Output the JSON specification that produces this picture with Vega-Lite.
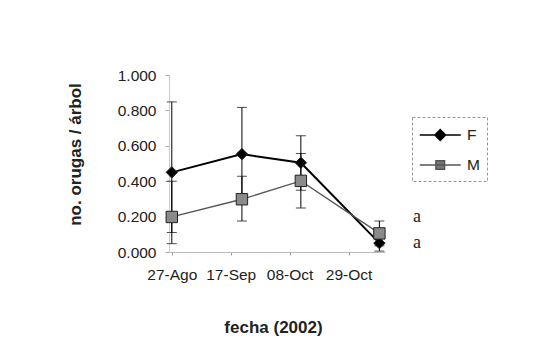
{
  "$schema": "https://vega.github.io/schema/vega-lite/v6.json",
  "width": 216,
  "height": 177,
  "autosize": {"type": "none"},
  "padding": {"left": 169, "top": 75, "right": 168, "bottom": 97},
  "background": "white",
  "config": {
    "view": {"stroke": null},
    "font": "Liberation Sans",
    "axis": {"grid": false, "labelFont": "Liberation Sans", "titleFont": "Liberation Sans", "labelColor": "#222", "titleColor": "#222", "labelOverlap": false}
  },
  "datasets": {
    "medias": [
      {"serie": "F", "dia": 0, "valor": 0.45, "inf": 0.047, "sup": 0.848},
      {"serie": "F", "dia": 25, "valor": 0.553, "inf": 0.29, "sup": 0.817},
      {"serie": "F", "dia": 46, "valor": 0.504, "inf": 0.349, "sup": 0.657},
      {"serie": "F", "dia": 74, "valor": 0.05, "inf": 0.005, "sup": 0.09},
      {"serie": "M", "dia": 0, "valor": 0.198, "inf": 0.11, "sup": 0.4},
      {"serie": "M", "dia": 25, "valor": 0.298, "inf": 0.175, "sup": 0.428},
      {"serie": "M", "dia": 46, "valor": 0.402, "inf": 0.249, "sup": 0.557},
      {"serie": "M", "dia": 74, "valor": 0.105, "inf": 0.035, "sup": 0.175}
    ],
    "letras": [
      {"dia": 86, "valor": 0.196, "texto": "a"},
      {"dia": 86, "valor": 0.05, "texto": "a"}
    ]
  },
  "encoding": {
    "x": {
      "field": "dia", "type": "quantitative",
      "scale": {"domain": [-1, 76], "nice": false, "zero": false},
      "axis": {
        "values": [0, 21, 42, 63],
        "labelExpr": "datum.value == 0 ? '27-Ago' : datum.value == 21 ? '17-Sep' : datum.value == 42 ? '08-Oct' : '29-Oct'",
        "domainColor": "#bbb", "tickColor": "#999", "tickSize": 3, "labelPadding": 12, "labelFontSize": 15.5, "labelOverlap": false,
        "title": "fecha (2002)", "titleFontSize": 17, "titleFontWeight": "bold",
        "titleX": 104, "titleY": 80, "titleAlign": "center", "titleBaseline": "alphabetic"
      }
    },
    "y": {
      "field": "valor", "type": "quantitative",
      "scale": {"domain": [0, 1], "nice": false},
      "axis": {
        "tickCount": 5, "format": ".3f", "labelOverlap": false, "labelSeparation": -10, "labelBound": false, "labelFlush": false,
        "domainColor": "#ccc", "tickColor": "#aaa", "tickSize": 4, "labelPadding": 9, "labelFontSize": 15.5,
        "title": "no. orugas / árbol", "titleFontSize": 17, "titleFontWeight": "bold",
        "titleAngle": 270, "titleX": -89, "titleY": 79, "titleAlign": "center", "titleBaseline": "alphabetic"
      }
    }
  },
  "layer": [
    {
      "data": {"name": "medias"},
      "mark": {"type": "errorbar", "ticks": {"size": 10, "color": "black", "thickness": 1}, "rule": {"color": "black", "strokeWidth": 1}},
      "encoding": {
        "y": {
          "field": "inf", "type": "quantitative",
          "scale": {"domain": [0, 1], "nice": false},
          "axis": {
            "tickCount": 5, "format": ".3f", "labelOverlap": false, "labelSeparation": -10, "labelBound": false, "labelFlush": false,
            "domainColor": "#ccc", "tickColor": "#aaa", "tickSize": 4, "labelPadding": 9, "labelFontSize": 15.5,
            "title": "no. orugas / árbol", "titleFontSize": 17, "titleFontWeight": "bold",
            "titleAngle": 270, "titleX": -89, "titleY": 79, "titleAlign": "center", "titleBaseline": "alphabetic"
          }
        },
        "y2": {"field": "sup"}
      }
    },
    {
      "data": {"name": "medias"},
      "mark": {"type": "line"},
      "encoding": {
        "color": {
          "field": "serie", "type": "nominal",
          "scale": {"domain": ["F", "M"], "range": ["black", "#555555"]},
          "legend": {
            "orient": "none", "legendX": 243, "legendY": 42, "title": null,
            "padding": 7, "strokeColor": "#999",
            "labelFontSize": 15.5, "labelFont": "Liberation Sans", "labelColor": "#222",
            "symbolSize": 420, "rowPadding": 10, "labelOffset": 26,
            "encode": {
              "legend": {"update": {"strokeDash": {"value": [3, 2]}}},
              "symbols": {
                "update": {
                  "shape": {"signal": "datum.value === 'F' ? 'M-1,0H3M0.48,0L1,-0.52L1.52,0L1,0.52Z' : 'M-1,0H3M0.58,-0.42H1.42V0.42H0.58Z'"},
                  "fill": {"signal": "datum.value === 'F' ? 'black' : '#777777'"},
                  "stroke": {"signal": "datum.value === 'F' ? 'black' : '#444444'"},
                  "strokeWidth": {"value": 1.5}
                }
              }
            }
          }
        },
        "strokeWidth": {"condition": {"test": "datum.serie === 'F'", "value": 2}, "value": 1.3}
      }
    },
    {
      "data": {"name": "medias"},
      "mark": {"type": "point", "filled": true, "size": 130, "stroke": "#222", "strokeWidth": 1, "opacity": 1},
      "encoding": {
        "shape": {"condition": {"test": "datum.serie === 'F'", "value": "diamond"}, "value": "square"},
        "fill": {"condition": {"test": "datum.serie === 'F'", "value": "black"}, "value": "#8a8a8a"}
      }
    },
    {
      "data": {"name": "letras"},
      "mark": {"type": "text", "font": "Liberation Serif", "fontSize": 18, "align": "left", "baseline": "middle", "color": "#222"},
      "encoding": {
        "text": {"field": "texto"}
      }
    }
  ]
}
